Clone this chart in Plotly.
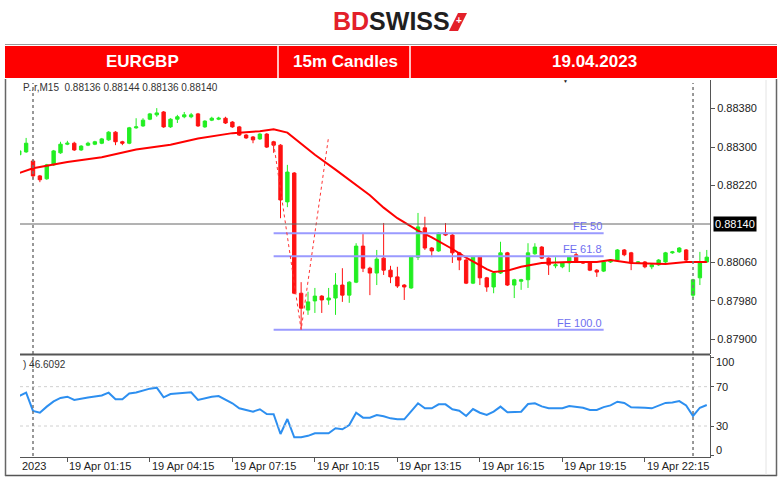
import plotly.graph_objects as go
import pandas as pd

W, H = 780, 482
def px(x): return x / W
def py(y): return 1 - y / H

# ---------------- data ----------------
candle_idx = list(range(-2, 99))   # 15-minute candle index, 0 = 19 Apr 00:00
base = pd.Timestamp("2023-04-19 00:00")
times = [base + pd.Timedelta(minutes=15 * i) for i in candle_idx]

opens = [0.88284, 0.88290, 0.88271, 0.88240, 0.88234, 0.88263, 0.88288, 0.88306, 0.88308, 0.88294,
         0.88304, 0.88306, 0.88308, 0.88315, 0.88331, 0.88311, 0.88308, 0.88340, 0.88344, 0.88358,
         0.88367, 0.88373, 0.88342, 0.88358, 0.88363, 0.88363, 0.88369, 0.88342, 0.88356, 0.88358,
         0.88360, 0.88352, 0.88342, 0.88325, 0.88321, 0.88317, 0.88327, 0.88311, 0.88304, 0.88186,
         0.88246, 0.87996, 0.87961, 0.87980, 0.87990, 0.87982, 0.87986, 0.88013, 0.87992, 0.88019,
         0.88094, 0.88048, 0.88038, 0.88069, 0.88044, 0.88030, 0.88013, 0.88007, 0.88071, 0.88132,
         0.88090, 0.88084, 0.88121, 0.88117, 0.88080, 0.88065, 0.88017, 0.88071, 0.88028, 0.88009,
         0.88038, 0.88080, 0.88013, 0.88021, 0.88024, 0.88078, 0.88092, 0.88069, 0.88053, 0.88051,
         0.88059, 0.88076, 0.88061, 0.88059, 0.88044, 0.88042, 0.88061, 0.88065, 0.88086, 0.88080,
         0.88059, 0.88061, 0.88051, 0.88055, 0.88061, 0.88080, 0.88082, 0.88086, 0.87992, 0.88028, 0.88061]
highs = [0.88296, 0.88319, 0.88275, 0.88242, 0.88265, 0.88294, 0.88311, 0.88313, 0.88311, 0.88304,
         0.88311, 0.88313, 0.88319, 0.88333, 0.88333, 0.88313, 0.88342, 0.88360, 0.88360, 0.88371,
         0.88381, 0.88375, 0.88360, 0.88367, 0.88373, 0.88371, 0.88371, 0.88356, 0.88363, 0.88363,
         0.88363, 0.88354, 0.88344, 0.88327, 0.88323, 0.88329, 0.88329, 0.88313, 0.88306, 0.88263,
         0.88248, 0.88019, 0.87999, 0.88007, 0.87992, 0.88007, 0.88038, 0.88048, 0.88021, 0.88100,
         0.88119, 0.88051, 0.88086, 0.88142, 0.88053, 0.88051, 0.88015, 0.88073, 0.88163, 0.88155,
         0.88092, 0.88123, 0.88142, 0.88119, 0.88082, 0.88067, 0.88073, 0.88073, 0.88030, 0.88040,
         0.88103, 0.88082, 0.88026, 0.88026, 0.88100, 0.88100, 0.88094, 0.88071, 0.88071, 0.88061,
         0.88073, 0.88080, 0.88063, 0.88061, 0.88046, 0.88063, 0.88067, 0.88088, 0.88088, 0.88082,
         0.88063, 0.88063, 0.88057, 0.88067, 0.88082, 0.88084, 0.88092, 0.88088, 0.88026, 0.88082, 0.88086]
lows = [0.88281, 0.88288, 0.88234, 0.88227, 0.88232, 0.88261, 0.88286, 0.88304, 0.88292, 0.88292,
        0.88302, 0.88304, 0.88306, 0.88313, 0.88304, 0.88304, 0.88306, 0.88338, 0.88342, 0.88356,
        0.88363, 0.88340, 0.88340, 0.88350, 0.88360, 0.88360, 0.88342, 0.88340, 0.88354, 0.88356,
        0.88348, 0.88340, 0.88323, 0.88317, 0.88308, 0.88315, 0.88298, 0.88288, 0.88152, 0.88175,
        0.87994, 0.87920, 0.87951, 0.87955, 0.87955, 0.87972, 0.87951, 0.87978, 0.87976, 0.88017,
        0.88040, 0.87992, 0.88013, 0.88034, 0.88017, 0.88007, 0.87982, 0.88005, 0.88065, 0.88086,
        0.88071, 0.88082, 0.88115, 0.88059, 0.88044, 0.88015, 0.88015, 0.88013, 0.87999, 0.87996,
        0.88036, 0.88011, 0.87986, 0.88003, 0.88007, 0.88076, 0.88067, 0.88034, 0.88048, 0.88048,
        0.88040, 0.88059, 0.88057, 0.88042, 0.88030, 0.88040, 0.88059, 0.88063, 0.88073, 0.88044,
        0.88057, 0.88048, 0.88046, 0.88053, 0.88059, 0.88078, 0.88080, 0.88063, 0.87986, 0.88013, 0.88059]
closes = [0.88292, 0.88308, 0.88240, 0.88232, 0.88263, 0.88292, 0.88306, 0.88308, 0.88294, 0.88302,
          0.88308, 0.88311, 0.88317, 0.88331, 0.88311, 0.88308, 0.88340, 0.88342, 0.88356, 0.88369,
          0.88371, 0.88342, 0.88358, 0.88363, 0.88367, 0.88367, 0.88344, 0.88354, 0.88360, 0.88360,
          0.88350, 0.88342, 0.88325, 0.88319, 0.88315, 0.88327, 0.88300, 0.88304, 0.88190, 0.88248,
          0.87996, 0.87965, 0.87978, 0.87990, 0.87982, 0.87986, 0.88013, 0.87992, 0.88019, 0.88094,
          0.88048, 0.88038, 0.88067, 0.88044, 0.88030, 0.88011, 0.88009, 0.88071, 0.88134, 0.88090,
          0.88084, 0.88121, 0.88117, 0.88080, 0.88065, 0.88017, 0.88071, 0.88028, 0.88009, 0.88038,
          0.88080, 0.88013, 0.88024, 0.88024, 0.88080, 0.88092, 0.88069, 0.88055, 0.88055, 0.88059,
          0.88071, 0.88061, 0.88059, 0.88044, 0.88040, 0.88061, 0.88065, 0.88086, 0.88076, 0.88059,
          0.88061, 0.88051, 0.88055, 0.88065, 0.88080, 0.88082, 0.88090, 0.88065, 0.88024, 0.88061, 0.88071]

# moving average (read at selected candles)
ma_idx = [-2, 0, 5, 10, 15, 20, 24, 29, 33, 35, 37, 39, 41, 44, 46, 49, 51, 53, 56, 58,
          61, 63, 66, 67, 69, 71, 74, 78, 82, 84, 87, 92, 95, 98]
ma_vals = [0.88246, 0.88256, 0.88269, 0.88279, 0.88295, 0.88305, 0.88318, 0.88329, 0.88333, 0.88337,
           0.88330, 0.88307, 0.88284, 0.88253, 0.88232, 0.88200, 0.88174, 0.88152, 0.88126, 0.88112,
           0.88088, 0.88070, 0.88046, 0.88040, 0.88043, 0.88051, 0.88059, 0.88061, 0.88061, 0.88065,
           0.88059, 0.88057, 0.88061, 0.88061]

rsi_vals = [60.5, 64, 45.3, 43.5, 49.7, 55, 58.5, 59.8, 56.5, 58,
            59, 60, 61, 63.9, 57.2, 57.2, 63, 64, 66, 68,
            69, 59.2, 62.5, 63.3, 63.5, 64.3, 56.5, 58.5, 59.8, 60.5,
            56.5, 53.1, 48, 46, 44.6, 47, 42.2, 42, 21.9, 37.1,
            18.5, 18.5, 20, 22.6, 22.6, 22.6, 27.7, 26.7, 31, 43.5,
            38.5, 38.5, 41.2, 40, 37.8, 36.8, 36.8, 45, 53.1, 48,
            48, 52, 52, 47, 45.6, 40.2, 47.3, 43.5, 41.2, 44.6,
            49.7, 43.9, 44, 44.6, 52.4, 53.1, 50, 48, 48, 48,
            50.4, 49.5, 48.6, 46.3, 46.3, 49.2, 51, 54.7, 53.5, 49,
            49, 48.5, 48, 50.5, 53.5, 54, 55.4, 51, 40.2, 48.6, 51.4]

# Fibonacci expansion
fe_labels = ["FE 50", "FE 61.8", "FE 100.0"]
fe_prices = [0.88121, 0.88073, 0.87920]
fe_start_idx, fe_end_idx = 35, 83
zig_idx = [35, 39, 43]
zig_vals = [0.88308, 0.87920, 0.88322]

price_ticks = [0.87900, 0.87980, 0.88060, 0.88220, 0.88300, 0.88380]
current_price = 0.88140
rsi_ticks = [100, 70, 30, 0]
time_tick_idx = [5, 17, 29, 41, 53, 65, 77, 89]
time_tick_labels = ["19 Apr 01:15", "19 Apr 04:15", "19 Apr 07:15", "19 Apr 10:15",
                    "19 Apr 13:15", "19 Apr 16:15", "19 Apr 19:15", "19 Apr 22:15"]
day_sep_idx = [0, 96]

# ---------------- figure ----------------
def t(i):
    return base + pd.Timedelta(minutes=15 * i)

GREEN = "#22ee22"
RED = "#ff1111"
FONT = "Liberation Sans, Arial, sans-serif"

fig = go.Figure()
fig.add_trace(go.Candlestick(
    x=times, open=opens, high=highs, low=lows, close=closes,
    increasing=dict(line=dict(color=GREEN, width=1), fillcolor=GREEN),
    decreasing=dict(line=dict(color=RED, width=1), fillcolor=RED),
    whiskerwidth=0, hoverinfo="skip", xaxis="x", yaxis="y"))
fig.add_trace(go.Scatter(x=[t(i) for i in ma_idx], y=ma_vals, mode="lines",
                         line=dict(color="#ff0000", width=2), xaxis="x", yaxis="y", hoverinfo="skip"))
for lab, p in zip(fe_labels, fe_prices):
    fig.add_trace(go.Scatter(x=[t(fe_start_idx), t(fe_end_idx)], y=[p, p], mode="lines",
                             line=dict(color="#9a9aff", width=2), xaxis="x", yaxis="y", hoverinfo="skip"))
    fig.add_annotation(x=t(fe_end_idx), y=p, xref="x", yref="y", text=lab, showarrow=False,
                       xanchor="right", yanchor="bottom", yshift=-1,
                       font=dict(family=FONT, size=11, color="#6f6ff0"))
fig.add_trace(go.Scatter(x=[t(i) for i in zig_idx], y=zig_vals, mode="lines",
                         line=dict(color="#ff3333", width=1, dash="dot"), xaxis="x", yaxis="y", hoverinfo="skip"))
fig.add_trace(go.Scatter(x=times, y=rsi_vals, mode="lines",
                         line=dict(color="#2d8ff0", width=2), xaxis="x2", yaxis="y2", hoverinfo="skip"))

xr = [t(-1.891), t(98.47)]
fig.update_layout(
    width=W, height=H, margin=dict(l=0, r=0, t=0, b=0),
    paper_bgcolor="white", plot_bgcolor="white", showlegend=False,
    xaxis=dict(domain=[px(20), px(710)], range=xr, anchor="y", showticklabels=False,
               showgrid=False, zeroline=False, rangeslider=dict(visible=False), showline=False, ticks=""),
    yaxis=dict(domain=[py(354), py(80)], range=[0.878696, 0.884395], anchor="x", side="right",
               showgrid=False, zeroline=False, showline=True, linecolor="#555", linewidth=1,
               ticks="outside", ticklen=4, tickcolor="#555",
               tickvals=price_ticks, ticktext=[f"{v:.5f}" for v in price_ticks],
               tickfont=dict(family=FONT, size=11, color="#222")),
    xaxis2=dict(domain=[px(20), px(710)], range=xr, anchor="y2", matches="x", showticklabels=False,
                showgrid=False, zeroline=False, showline=True, linecolor="#555", linewidth=1,
                ticks="outside", ticklen=4, tickcolor="#555",
                tickvals=[t(i) for i in time_tick_idx]),
    yaxis2=dict(domain=[py(456.7), py(355)], range=[-1.2, 102.2], anchor="x2", side="right",
                showgrid=False, zeroline=False, showline=True, linecolor="#555", linewidth=1,
                ticks="outside", ticklen=3, tickcolor="#555", tickvals=rsi_ticks, showticklabels=False),
)

shapes = []
# RSI levels
for lv in [70, 30]:
    shapes.append(dict(type="line", xref="paper", yref="y2", x0=px(20), x1=px(710), y0=lv, y1=lv,
                       line=dict(color="#d0d0d0", width=1, dash="dot")))
# current price line
shapes.append(dict(type="line", xref="paper", yref="y", x0=px(20), x1=px(710), y0=current_price, y1=current_price,
                   line=dict(color="#666", width=1)))
# day separators
for i in day_sep_idx:
    shapes.append(dict(type="line", xref="x", yref="paper", x0=t(i), x1=t(i), y0=py(456), y1=py(83),
                       line=dict(color="#777", width=1.5, dash="dot")))
# panel separator
shapes.append(dict(type="line", xref="paper", yref="paper", x0=px(20), x1=px(710), y0=py(354.5), y1=py(354.5),
                   line=dict(color="#555", width=2)))
# frame
shapes.append(dict(type="line", xref="paper", yref="paper", x0=px(5), x1=px(777), y0=py(475.5), y1=py(475.5),
                   line=dict(color="#555", width=1.5)))
shapes.append(dict(type="line", xref="paper", yref="paper", x0=px(5.5), x1=px(5.5), y0=py(476), y1=py(79),
                   line=dict(color="#666", width=1.5)))
shapes.append(dict(type="line", xref="paper", yref="paper", x0=px(776.5), x1=px(776.5), y0=py(476), y1=py(79),
                   line=dict(color="#666", width=1.5)))
shapes.append(dict(type="line", xref="paper", yref="paper", x0=px(766), x1=px(766), y0=py(475), y1=py(80),
                   line=dict(color="#e4e4e4", width=1)))
# header bar
shapes.append(dict(type="line", xref="paper", yref="paper", x0=px(5), x1=px(777), y0=py(44.5), y1=py(44.5),
                   line=dict(color="#999", width=1)))
shapes.append(dict(type="rect", xref="paper", yref="paper", x0=px(5), x1=px(777), y0=py(78), y1=py(46),
                   fillcolor="#fe0000", line=dict(width=0)))
for xs in [278, 410]:
    shapes.append(dict(type="line", xref="paper", yref="paper", x0=px(xs), x1=px(xs), y0=py(78), y1=py(46),
                       line=dict(color="white", width=1.5)))
# logo mark
shapes.append(dict(type="path", xref="paper", yref="paper",
                   path=f"M {px(449)},{py(31)} L {px(458)},{py(13)} L {px(467)},{py(13)} L {px(458)},{py(31)} Z",
                   fillcolor="#e3202a", line=dict(width=0)))
fig.update_layout(shapes=shapes)

ann = []
# logo
ann.append(dict(x=px(391), y=py(21), xref="paper", yref="paper", showarrow=False,
                text="<b><span style='color:#e3202a'>BD</span><span style='color:#1f1f1f'>SWISS</span></b>",
                font=dict(family=FONT, size=25), xanchor="center", yanchor="middle"))
ann.append(dict(x=px(458.5), y=py(21), xref="paper", yref="paper", showarrow=False, text="<b>+</b>",
                font=dict(family=FONT, size=10, color="white"), xanchor="center", yanchor="middle"))
# header texts
for txt, xc in [("EURGBP", 142), ("15m Candles", 345), ("19.04.2023", 594)]:
    ann.append(dict(x=px(xc), y=py(62), xref="paper", yref="paper", showarrow=False, text=f"<b>{txt}</b>",
                    font=dict(family=FONT, size=17, color="white"), xanchor="center", yanchor="middle"))
# info texts
ann.append(dict(x=px(21), y=py(87), xref="paper", yref="paper", showarrow=False,
                text="P..r,M15  0.88136 0.88144 0.88136 0.88140",
                font=dict(family=FONT, size=10, color="#333"), xanchor="left", yanchor="middle"))
ann.append(dict(x=px(21), y=py(364), xref="paper", yref="paper", showarrow=False, text=") 46.6092",
                font=dict(family=FONT, size=10, color="#333"), xanchor="left", yanchor="middle"))
ann.append(dict(x=px(565), y=py(81), xref="paper", yref="paper", showarrow=False, text="▼",
                font=dict(family=FONT, size=5, color="#222"), xanchor="center", yanchor="middle"))
# current price box
ann.append(dict(x=px(713), y=current_price, xref="paper", yref="y", showarrow=False,
                text=f"{current_price:.5f}", bgcolor="black", borderpad=1,
                font=dict(family=FONT, size=11, color="white"), xanchor="left", yanchor="middle"))
# rsi tick labels
rsi_label_y = {100: 362, 70: 387, 30: 426, 0: 450}
for v in rsi_ticks:
    ann.append(dict(x=px(714), y=py(rsi_label_y[v]), xref="paper", yref="paper", showarrow=False, text=str(v),
                    font=dict(family=FONT, size=11, color="#222"), xanchor="left", yanchor="middle"))
# time labels
ann.append(dict(x=px(20), y=py(466), xref="paper", yref="paper", showarrow=False, text="2023",
                font=dict(family=FONT, size=11, color="#222"), xanchor="left", yanchor="middle"))
for i, lab in zip(time_tick_idx, time_tick_labels):
    ann.append(dict(x=t(i), y=py(466), xref="x", yref="paper", showarrow=False, text=lab,
                    font=dict(family=FONT, size=11, color="#222"), xanchor="left", yanchor="middle"))
for a in ann:
    fig.add_annotation(**a)

fig.write_html("out.html", config={"displayModeBar": False},
               post_script="document.body.style.margin='0';document.body.style.overflow='hidden';")
